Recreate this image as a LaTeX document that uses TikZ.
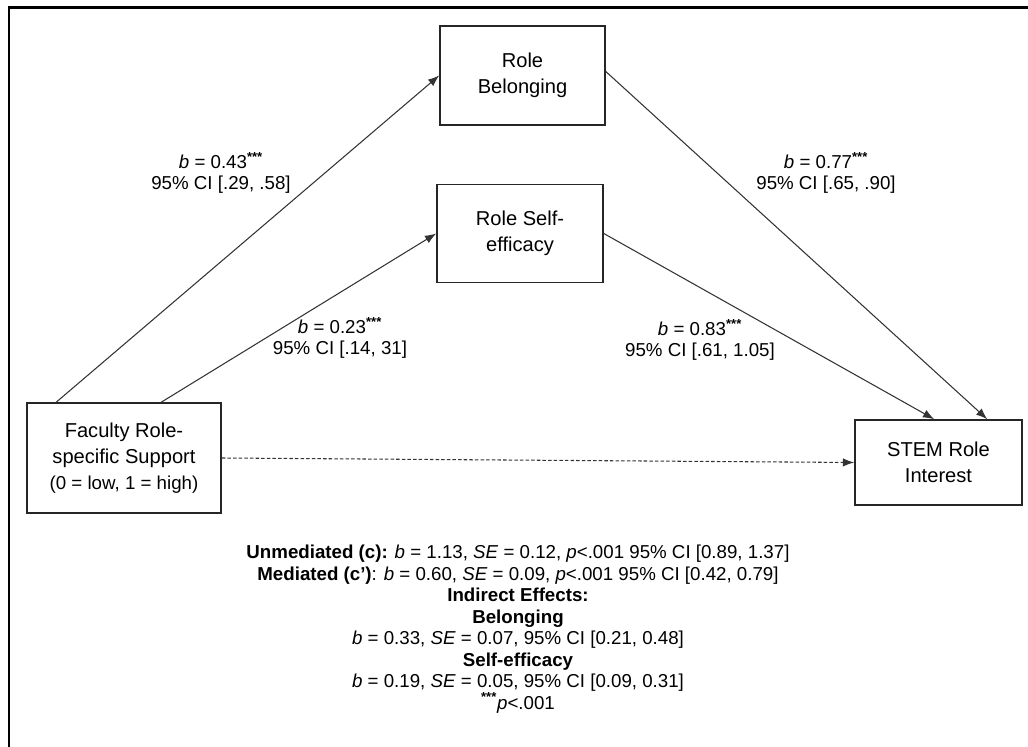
\documentclass[tikz,border=0pt]{standalone}
\usepackage{fontspec}
\setmainfont{Liberation Sans}
\usetikzlibrary{arrows.meta}

\begin{document}
\begin{tikzpicture}[x=0.025cm,y=-0.025cm,
  var/.style={draw=black!85,line width=1.1pt,align=center,inner sep=2pt,font=\fontsize{14.3}{18.5}\selectfont},
  arr/.style={draw=black!80,line width=0.75pt,-{Latex[length=8pt,width=6pt]}},
  est/.style={align=center,font=\fontsize{13.3}{15.3}\selectfont}]
\useasboundingbox (0,0) rectangle (1028,747);
\draw[line width=1.5pt] (9,747)--(9,7.5)--(1028,7.5);
% variables
\node[var,minimum width=4.125cm,minimum height=2.475cm] (bel) at (522.5,75.5) {Role\\Belonging};
\node[var,minimum width=4.15cm,minimum height=2.45cm] (eff) at (520,233.5) {Role Self-\\efficacy};
\node[var,minimum width=4.85cm,minimum height=2.75cm] (fac) at (124,458) {Faculty Role-\\specific Support\\{\fontsize{13.3}{15}\selectfont(0 = low, 1 = high)}};
\node[var,minimum width=4.175cm,minimum height=2.125cm] (stem) at (938.5,462.5) {STEM Role\\Interest};
% paths
\draw[arr] ([xshift=0.75cm]fac.north west)--(bel.west);
\draw[arr] ([xshift=3.375cm]fac.north west)--(eff.west);
\draw[arr] ([yshift=0.1cm]bel.east)--([xshift=3.325cm]stem.north west);
\draw[arr] (eff.east)--([xshift=2cm]stem.north west);
\draw[arr,dash pattern=on 2.5pt off 1.5pt] (fac.east)--(stem.west);
% estimates
\node[est] (a1) at (221,173) {\textit{b} = 0.43\textsuperscript{\textbf{***}}\\95\% CI [.29, .58]};
\node[est] (b1) at (826,173) {\textit{b} = 0.77\textsuperscript{\textbf{***}}\\95\% CI [.65, .90]};
\node[est] (a2) at (340,338) {\textit{b} = 0.23\textsuperscript{\textbf{***}}\\95\% CI [.14, 31]};
\node[est] (b2) at (700,340) {\textit{b} = 0.83\textsuperscript{\textbf{***}}\\95\% CI [.61, 1.05]};
\node[est] (notes) at (518,629) {\textbf{Unmediated (c):} \textit{b} = 1.13, \textit{SE} = 0.12, \textit{p}<.001 95\% CI [0.89, 1.37]\\
  \textbf{Mediated (c')}: \textit{b} = 0.60, \textit{SE} = 0.09, \textit{p}<.001 95\% CI [0.42, 0.79]\\
  \textbf{Indirect Effects:}\\
  \textbf{Belonging}\\
  \textit{b} = 0.33, \textit{SE} = 0.07, 95\% CI [0.21, 0.48]\\
  \textbf{Self-efficacy}\\
  \textit{b} = 0.19, \textit{SE} = 0.05, 95\% CI [0.09, 0.31]\\
  \textsuperscript{\textbf{***}}\textit{p}<.001};
\end{tikzpicture}
\end{document}
